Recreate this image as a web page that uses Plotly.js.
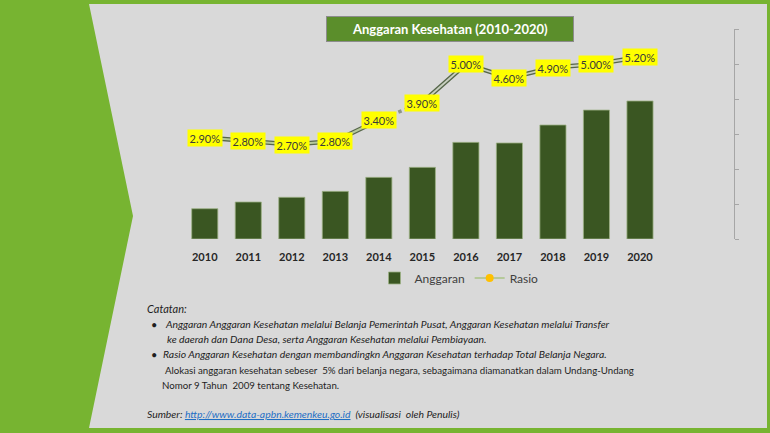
<!DOCTYPE html>
<html>
<head>
<meta charset="utf-8">
<script src="https://cdn.plot.ly/plotly-3.0.1.min.js"></script>
<style>html,body{margin:0;padding:0;background:#77B431;}#chart{width:770px;height:433px;}</style>
</head>
<body>
<div id="chart"></div>
<script>
// ---- data ----
const years = ['2010','2011','2012','2013','2014','2015','2016','2017','2018','2019','2020'];
const anggaran = [29.0, 35.4, 39.9, 45.6, 59.0, 68.6, 92.5, 91.9, 109.1, 123.4, 132.1];
const rasio = [2.9, 2.8, 2.7, 2.8, 3.4, 3.9, 5.0, 4.6, 4.9, 5.0, 5.2];
const titleText = 'Anggaran Kesehatan (2010-2020)';
const notes = [
  {t: '<i>Catatan:</i>', x: 145, y: 308, s: 11},
  {t: '•', x: 149, y: 324, s: 11},
  {t: '<i>Anggaran Anggaran Kesehatan melalui Belanja Pemerintah Pusat, Anggaran Kesehatan melalui Transfer</i>', x: 163, y: 324, s: 10.4},
  {t: '<i>ke daerah dan Dana Desa, serta Anggaran Kesehatan melalui Pembiayaan.</i>', x: 165, y: 339, s: 10.4},
  {t: '•', x: 149, y: 354, s: 11},
  {t: '<i>Rasio Anggaran Kesehatan dengan membandingkn Anggaran Kesehatan terhadap Total Belanja Negara.</i>', x: 161, y: 354, s: 10.4},
  {t: 'Alokasi anggaran kesehatan sebeser  5% dari belanja negara, sebagaimana diamanatkan dalam Undang-Undang', x: 163, y: 370, s: 9.7},
  {t: 'Nomor 9 Tahun  2009 tentang Kesehatan.', x: 160, y: 385, s: 9.7},
  {t: '<i>Sumber: <span style="color:#1F6FC5;text-decoration:underline">http://www.data-apbn.kemenkeu.go.id</span>  (visualisasi  oleh Penulis)</i>', x: 145, y: 414, s: 10.4}
];

// ---- layout helpers (pixel -> paper) ----
const L = 183, R = 36, T = 29, Bm = 194;
const W = 770 - L - R, H = 433 - T - Bm, B = 433 - Bm;
const px = x => (x - L) / W;
const py = y => (B - y) / H;

const darkLine = '#56664A', lightLine = '#C8CFC0';
const seg1 = {x: years.slice(0,5), y: rasio.slice(0,5)};
const seg2 = {x: years.slice(5), y: rasio.slice(5)};
const segD = {x: years.slice(4,6), y: rasio.slice(4,6)};

const traces = [
  {type:'bar', x: years, y: anggaran, name:'Anggaran', yaxis:'y',
   marker:{color:'#3A5622', line:{color:'#9DB185', width:0.8}}, hoverinfo:'skip'},
  {type:'scatter', mode:'lines', x: seg1.x, y: seg1.y, yaxis:'y2', showlegend:false,
   line:{color:darkLine, width:4.5}, hoverinfo:'skip'},
  {type:'scatter', mode:'lines', x: seg2.x, y: seg2.y, yaxis:'y2', showlegend:false,
   line:{color:darkLine, width:4.5}, hoverinfo:'skip'},
  {type:'scatter', mode:'lines', x: segD.x, y: segD.y, yaxis:'y2', showlegend:false,
   line:{color:'#8E9687', width:3.5, dash:'dot'}, hoverinfo:'skip'},
  {type:'scatter', mode:'lines', x: seg2.x, y: seg2.y, yaxis:'y2', showlegend:false,
   line:{color:lightLine, width:1.8}, hoverinfo:'skip'},
  {type:'scatter', mode:'lines+markers', x: seg1.x, y: seg1.y, yaxis:'y2', name:'Rasio',
   line:{color:'#B5C99A', width:2}, marker:{color:'#FFC000', size:8}, hoverinfo:'skip'}
];

const annotations = [];
// title box
annotations.push({xref:'paper', yref:'paper', x: px(449.5), y: py(29), xanchor:'center', yanchor:'middle',
  text:'<b>'+titleText+'</b>', showarrow:false, font:{family:'Lato, sans-serif', size:13, color:'#FFFFFF'},
  bgcolor:'#5B8E2B', bordercolor:'#8C8C8C', borderwidth:1, width:244, height:22});
// ratio labels
rasio.forEach((v,i) => {
  annotations.push({xref:'x', yref:'y2', x: i, y: v, text: v.toFixed(2)+'%', showarrow:false,
    font:{family:'Lato, sans-serif', size:11, color:'#3A3A3A'}, bgcolor:'#FFFF00', borderpad:1.5,
    xanchor:'center', yanchor:'middle'});
});
// notes
notes.forEach(n => {
  annotations.push({xref:'paper', yref:'paper', x: px(n.x), y: py(n.y), xanchor:'left', yanchor:'middle',
    text: n.t, showarrow:false, align:'left', font:{family:'Lato, sans-serif', size:n.s, color:'#1E1E1E'}});
});

const panelPath = 'M ' + px(89) + ' ' + py(4) + ' L ' + px(767) + ' ' + py(4) + ' L ' + px(767) + ' ' + py(428) +
  ' L ' + px(89) + ' ' + py(428) + ' L ' + px(133) + ' ' + py(216) + ' Z';

const layout = {
  width: 770, height: 433,
  margin: {l: L, r: R, t: T, b: Bm, pad: 0},
  paper_bgcolor: '#77B431', plot_bgcolor: 'rgba(0,0,0,0)',
  font: {family: 'Lato, sans-serif', color: '#262626'},
  bargap: 0.4,
  showlegend: true,
  legend: {orientation:'h', x: px(459), y: py(278), xanchor:'center', yanchor:'middle', itemwidth:30,
    font:{size:12, color:'#404040'}, bgcolor:'rgba(0,0,0,0)', traceorder:'normal'},
  xaxis: {type:'category', range:[-0.5, 12.16], showline:false, showgrid:false, zeroline:false, ticks:'',
    ticklabelstandoff: 10,
    tickfont:{size:11, color:'#262626', family:'Lato, sans-serif', weight:'bold'}, fixedrange:true},
  yaxis: {range:[0, 201], visible:false, fixedrange:true},
  yaxis2: {overlaying:'y', side:'right', range:[0, 6], dtick:1, showticklabels:false, ticks:'outside',
    ticklen:4, tickcolor:'#A6A6A6', showline:true, linecolor:'#A6A6A6', linewidth:1, showgrid:false, zeroline:false, fixedrange:true},
  shapes: [{type:'path', xref:'paper', yref:'paper', path: panelPath, fillcolor:'#D9D9D9', line:{width:0}, layer:'below'}],
  annotations: annotations
};

Plotly.newPlot('chart', traces, layout, {displayModeBar:false, staticPlot:true});
</script>
</body>
</html>
